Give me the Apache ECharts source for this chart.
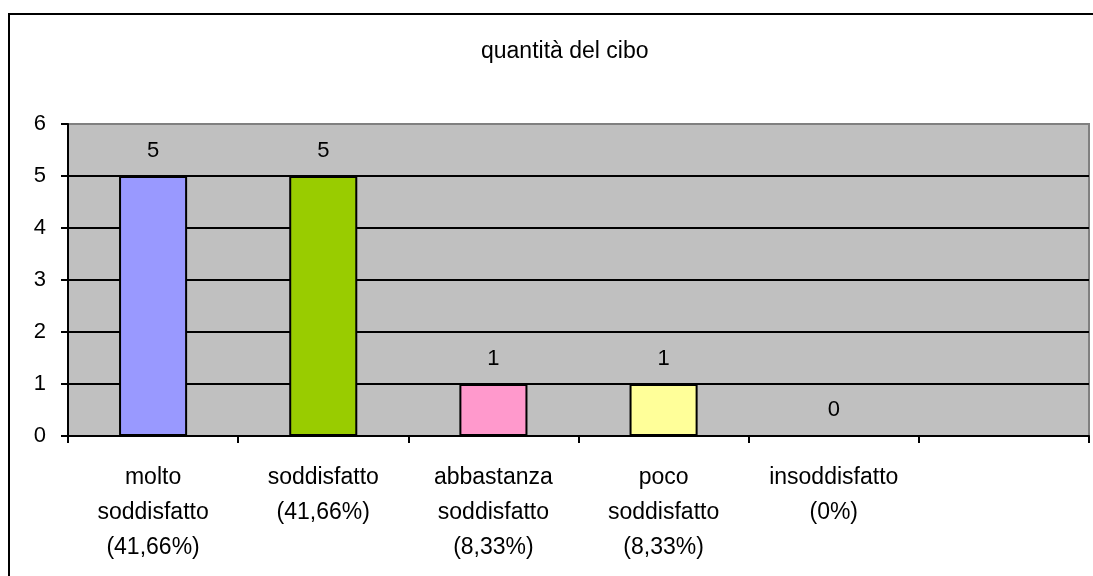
<!DOCTYPE html>
<html>
<head>
<meta charset="utf-8">
<script src="https://cdn.jsdelivr.net/npm/echarts@6/dist/echarts.min.js"></script>
<style>
html, body { margin: 0; padding: 0; background: #fff; }
#chart { width: 1093px; height: 576px; }
</style>
</head>
<body>
<div id="chart"></div>
<script>
// categorie e valori
const categories = ['molto\nsoddisfatto\n(41,66%)', 'soddisfatto\n(41,66%)', 'abbastanza\nsoddisfatto\n(8,33%)', 'poco\nsoddisfatto\n(8,33%)', 'insoddisfatto\n(0%)', '']
const values = [5, 5, 1, 1, 0, '-']
const barColors = ['#9999FF', '#99CC00', '#FF99CC', '#FFFF99', '#FFFFFF', '#FFFFFF']
const titleText = 'quantità del cibo'

const font = 'Arial, "Liberation Sans", sans-serif'
var myChart = echarts.init(document.getElementById('chart'))
let option = {
	animation: false,
	backgroundColor: '#fff',
	title: {
		text: titleText,
		left: 476,
		top: 35,
		textStyle: { fontFamily: font, fontSize: 23, fontWeight: 'normal', color: '#000' }
	},
	graphic: [{
		type: 'rect',
		shape: { x: 9, y: 14, width: 1100, height: 580 },
		style: { fill: 'none', stroke: '#000', lineWidth: 2 },
		z: 100
	}],
	grid: {
		left: 68,
		top: 124,
		right: 4,
		bottom: 140,
		show: true,
		backgroundColor: '#C0C0C0',
		borderColor: '#808080',
		borderWidth: 2
	},
	xAxis: {
		type: 'category',
		data: categories,
		axisLine: { lineStyle: { color: '#000', width: 2 } },
		axisTick: { show: true, length: 7, lineStyle: { color: '#000', width: 2 } },
		axisLabel: {
			interval: 0,
			margin: 24,
			fontFamily: font,
			fontSize: 23,
			lineHeight: 35,
			color: '#000'
		}
	},
	yAxis: {
		type: 'value',
		min: 0,
		max: 6,
		interval: 1,
		axisLine: { show: true, lineStyle: { color: '#000', width: 2 } },
		axisTick: { show: true, length: 7, lineStyle: { color: '#000', width: 2 } },
		axisLabel: { margin: 22, fontFamily: font, fontSize: 22, color: '#000' },
		splitLine: { show: true, lineStyle: { color: ['#000', '#000', '#000', '#000', '#000', '#000', '#808080'], width: 2 } }
	},
	series: [{
		type: 'bar',
		data: values.map((v, i) => ({ value: v, itemStyle: { color: barColors[i] } })),
		barWidth: '40%',
		itemStyle: { borderColor: '#000', borderWidth: 2 },
		label: {
			show: true,
			position: 'top',
			distance: 14,
			fontFamily: font,
			fontSize: 22,
			color: '#000'
		}
	}]
}
myChart.setOption(option)
</script>
</body>
</html>
